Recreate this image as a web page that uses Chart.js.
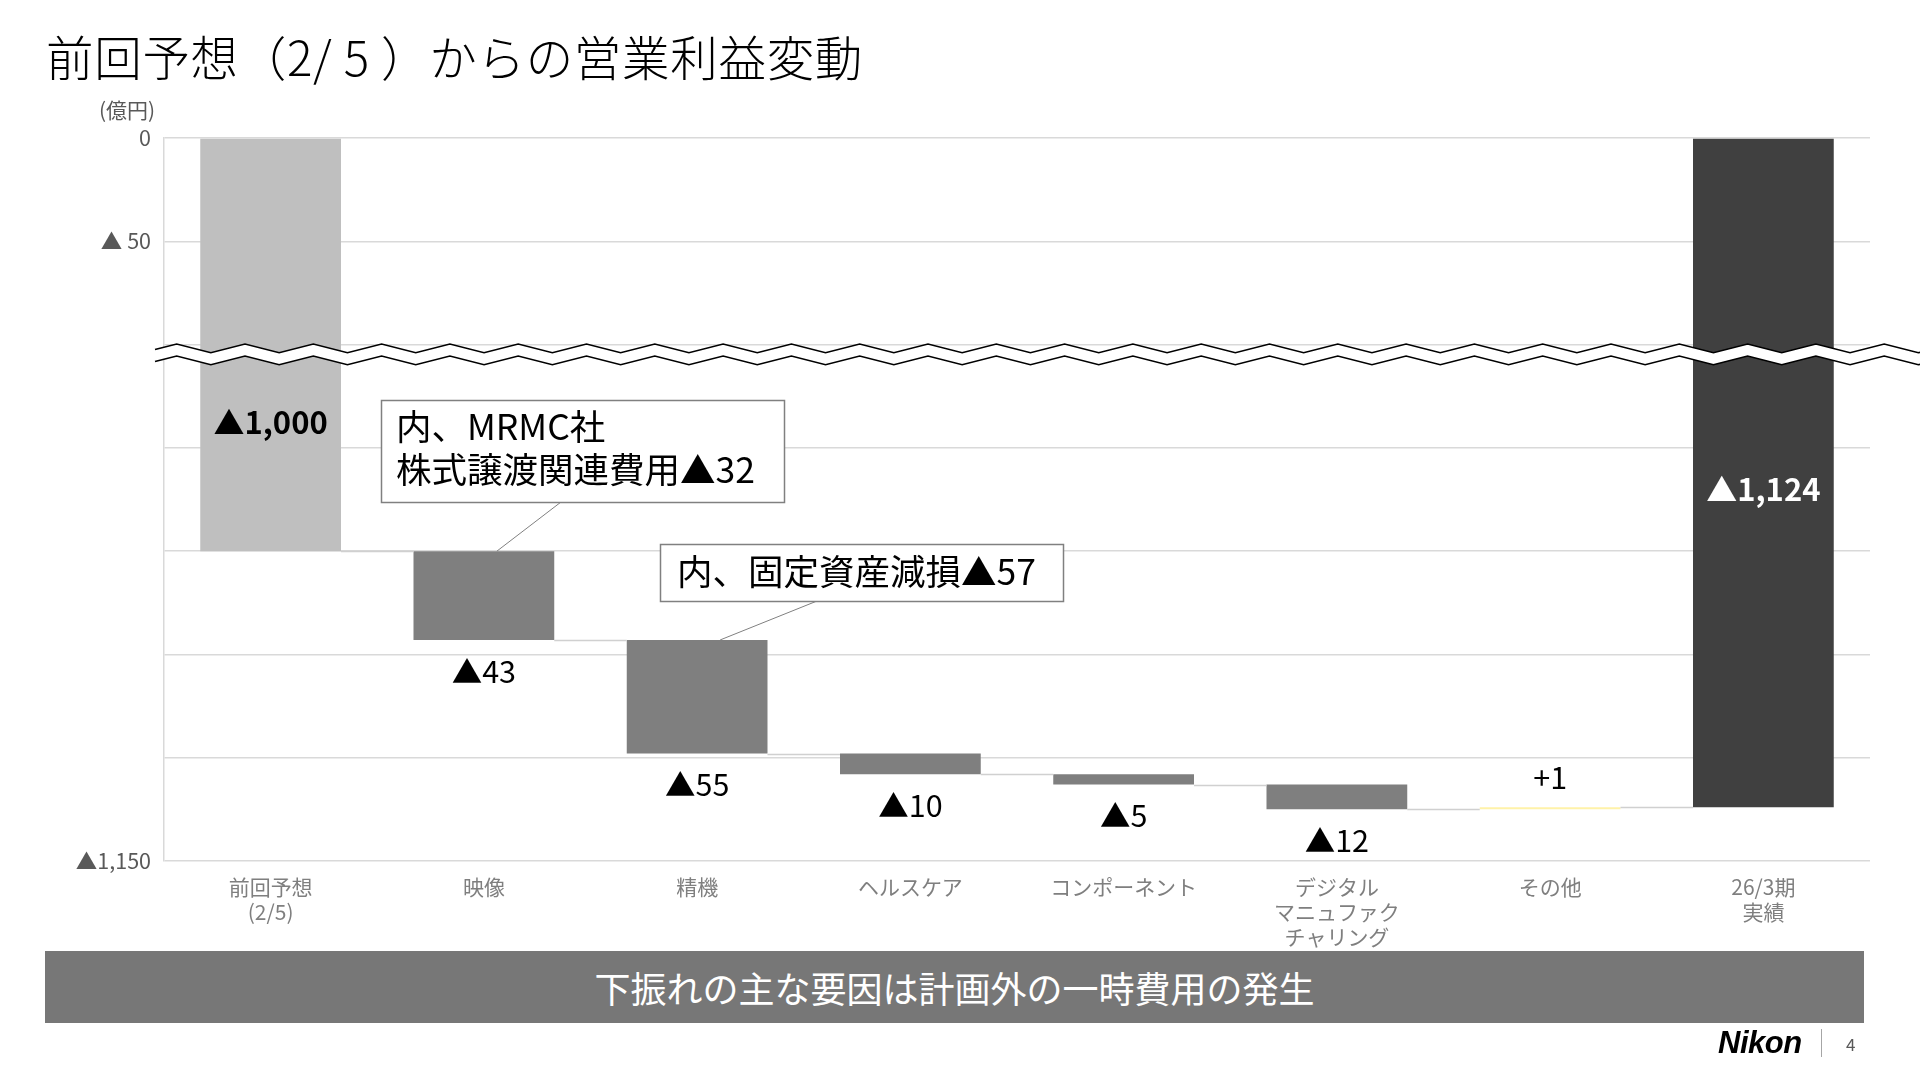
<!DOCTYPE html>
<html><head><meta charset="utf-8">
<script src="https://cdn.jsdelivr.net/npm/chart.js@4.4.1/dist/chart.umd.min.js"></script>
<style>
html,body{margin:0;padding:0;background:#fff;}
body{width:1920px;height:1080px;position:relative;overflow:hidden;font-family:"Noto Sans CJK JP","Noto Sans",sans-serif;}
#c{position:absolute;left:0;top:0;}
.title{position:absolute;left:46px;top:28px;font-size:47.5px;line-height:56px;color:#000;white-space:pre;font-weight:300;letter-spacing:0.7px;}
.unit{position:absolute;left:99px;top:95px;font-size:21px;line-height:28px;color:#595959;}
.banner{position:absolute;left:45px;top:951px;width:1819px;height:72px;background:#777;color:#fff;font-size:36px;line-height:72px;text-align:center;}
.logo{position:absolute;left:1718px;top:1024px;font-family:"Liberation Sans",Arial,sans-serif;font-weight:bold;font-style:italic;font-size:31px;line-height:38px;color:#000;letter-spacing:-0.5px;}
.sep{position:absolute;left:1821px;top:1029px;width:1px;height:28px;background:#a6a6a6;}
.page{position:absolute;left:1846px;top:1031px;font-size:17px;line-height:26px;color:#595959;}
</style></head>
<body>
<canvas id="c" width="1920" height="1080"></canvas>
<div class="title">前回予想（2/ 5 ）からの営業利益変動</div>
<div class="unit">(億円)</div>
<div class="banner">下振れの主な要因は計画外の一時費用の発生</div>
<div class="logo">Nikon</div>
<div class="sep"></div>
<div class="page">4</div>
<script>
// ---- data ----
const categories = [['前回予想','(2/5)'], ['映像'], ['精機'], ['ヘルスケア'], ['コンポーネント'], ['デジタル','マニュファク','チャリング'], ['その他'], ['26/3期','実績']];
const startTotal = -1000;                 // 前回予想 (2/5)
const stepValues = [-43, -55, -10, -5, -12, 1];  // 映像, 精機, ヘルスケア, コンポーネント, デジタルマニュファクチャリング, その他
const endTotal = -1124;                   // 26/3期 実績
const shownTicks = [0, -50, -1150];       // y tick labels shown
const breakUpper = -100;                  // axis break: from -100 ...
const breakLower = -900;                  // ... to -900
const axisMin = -1150, axisMax = 0, axisStep = 50;
const callouts = [
  {index:1, lines:['内、MRMC社','株式譲渡関連費用▲32']},
  {index:2, lines:['内、固定資産減損▲57']}
];

// ---- axis-break transform ----
const gap = breakUpper - breakLower;
const toDisp = v => v > breakUpper ? v : v + gap;
const fromDisp = d => d > breakUpper ? d : d - gap;
const fmt = n => Math.abs(n).toLocaleString('en-US');
const tickText = v => v === 0 ? '0' : (Math.abs(v) < 1000 ? '▲ ' + fmt(v) : '▲' + fmt(v));

const bars = [];
const levels = [];
let run = startTotal;
bars.push([toDisp(0), toDisp(startTotal)]);
levels.push(run);
stepValues.forEach(s => { bars.push([toDisp(run), toDisp(run + s)]); run += s; levels.push(run); });
bars.push([toDisp(0), toDisp(endTotal)]);

const FONT = '"Noto Sans CJK JP","Noto Sans",sans-serif';

function drawBreak(chart) {
  const ctx = chart.ctx, y = chart.scales.y;
  const yPeak = y.getPixelForValue(breakUpper) - 0.5;
  const period = 68.3, half = period / 2, peak0 = 176.7, amp = 8.7, off = 12;
  const x0 = 155, x1 = 1920;
  const yAt = x => {
    const t = (((x - peak0) % period) + period) % period;
    return t < half ? yPeak + amp * (t / half) : yPeak + amp * ((period - t) / half);
  };
  const xs = [x0];
  for (let k = -2; peak0 + k * half < x1; k++) { const xv = peak0 + k * half; if (xv > x0) xs.push(xv); }
  xs.push(x1);
  ctx.save();
  ctx.beginPath();
  xs.forEach((xv, i) => { if (i) ctx.lineTo(xv, yAt(xv)); else ctx.moveTo(xv, yAt(xv)); });
  for (let i = xs.length - 1; i >= 0; i--) ctx.lineTo(xs[i], yAt(xs[i]) + off);
  ctx.closePath();
  ctx.fillStyle = '#fff';
  ctx.fill();
  ctx.strokeStyle = '#000';
  ctx.lineWidth = 1.6;
  for (const o of [0, off]) {
    ctx.beginPath();
    xs.forEach((xv, i) => { if (i) ctx.lineTo(xv, yAt(xv) + o); else ctx.moveTo(xv, yAt(xv) + o); });
    ctx.stroke();
  }
  ctx.restore();
}

const overlay = {
  id: 'overlay',
  afterDatasetsDraw(chart) {
    const ctx = chart.ctx, meta = chart.getDatasetMeta(0), y = chart.scales.y, area = chart.chartArea;
    ctx.save();
    // connectors
    ctx.strokeStyle = '#D0D0D0'; ctx.lineWidth = 1.5;
    for (let i = 0; i < meta.data.length - 1; i++) {
      const a = meta.data[i], b = meta.data[i + 1];
      const yy = Math.round(y.getPixelForValue(toDisp(levels[i]))) + 0.5;
      ctx.beginPath(); ctx.moveTo(a.x + a.width / 2, yy); ctx.lineTo(b.x - b.width / 2, yy); ctx.stroke();
    }
    ctx.restore();
    drawBreak(chart);
    ctx.save();
    // step labels
    ctx.fillStyle = '#000'; ctx.textAlign = 'center'; ctx.textBaseline = 'middle';
    ctx.font = '30.5px ' + FONT;
    stepValues.forEach((s, k) => {
      const el = meta.data[k + 1];
      const top = Math.min(el.y, el.base), bot = Math.max(el.y, el.base);
      const txt = s < 0 ? '▲' + fmt(s) : '+' + fmt(s);
      ctx.fillText(txt, el.x, s < 0 ? bot + 31 : top - 30);
    });
    // total labels
    ctx.font = 'bold 31px ' + FONT;
    ctx.fillStyle = '#000';
    ctx.fillText('▲' + fmt(startTotal), meta.data[0].x, area.top + 284);
    ctx.fillStyle = '#fff';
    ctx.fillText('▲' + fmt(endTotal), meta.data[meta.data.length - 1].x, area.top + 351);
    // callouts
    const boxes = [
      {x:381, y:400, w:403, h:102, tx:396, ty:[427, 470], from:[561, 502], dx:13},
      {x:660, y:544, w:403, h:57, tx:677, ty:[572], from:[817, 601], dx:23}
    ];
    callouts.forEach((c, i) => {
      const b = boxes[i], el = meta.data[c.index];
      const top = Math.min(el.y, el.base);
      ctx.strokeStyle = '#808080'; ctx.lineWidth = 1;
      ctx.beginPath(); ctx.moveTo(b.from[0], b.from[1]); ctx.lineTo(el.x + b.dx, top); ctx.stroke();
      ctx.fillStyle = '#fff'; ctx.fillRect(b.x, b.y, b.w, b.h);
      ctx.lineWidth = 1.5; ctx.strokeRect(b.x + 0.5, b.y + 0.5, b.w, b.h);
      ctx.fillStyle = '#000'; ctx.textAlign = 'left'; ctx.textBaseline = 'middle';
      ctx.font = '35.5px ' + FONT;
      c.lines.forEach((ln, j) => ctx.fillText(ln, b.tx, b.ty[j]));
    });
    ctx.restore();
  }
};

function make() {
  new Chart(document.getElementById('c'), {
    type: 'bar',
    data: {
      labels: categories,
      datasets: [{
        data: bars,
        backgroundColor: c => {
          const i = c.dataIndex;
          if (i === 0) return '#BFBFBF';
          if (i === bars.length - 1) return '#404040';
          return stepValues[i - 1] > 0 ? '#FFF2A8' : '#7F7F7F';
        },
        borderWidth: 0,
        barPercentage: 0.66,
        categoryPercentage: 1.0
      }]
    },
    options: {
      responsive: false,
      animation: false,
      devicePixelRatio: 1,
      layout: { padding: { top: 138, right: 50, left: 0, bottom: 0 } },
      plugins: { legend: { display: false }, tooltip: { enabled: false } },
      scales: {
        x: {
          grid: { display: false },
          border: { display: false },
          ticks: { color: '#7F7F7F', font: { family: FONT, size: 21 }, padding: 5, maxRotation: 0, autoSkip: false },
          afterFit: s => { s.height = 219; }
        },
        y: {
          min: toDisp(axisMin), max: axisMax,
          ticks: {
            stepSize: axisStep,
            color: '#595959',
            font: { family: FONT, size: 21.5 },
            padding: 13,
            callback: v => { const a = fromDisp(v); return shownTicks.includes(a) ? tickText(a) : ''; }
          },
          grid: { color: '#D9D9D9', lineWidth: 1.5, drawTicks: false },
          border: { display: true, color: '#D9D9D9', width: 1.5 },
          afterFit: s => { s.width = 164; }
        }
      }
    },
    plugins: [overlay]
  });
}
if (document.fonts && document.fonts.load) {
  Promise.all([document.fonts.load('30px "Noto Sans CJK JP"'), document.fonts.load('bold 30px "Noto Sans CJK JP"')]).then(make, make);
} else make();
</script>
</body></html>
